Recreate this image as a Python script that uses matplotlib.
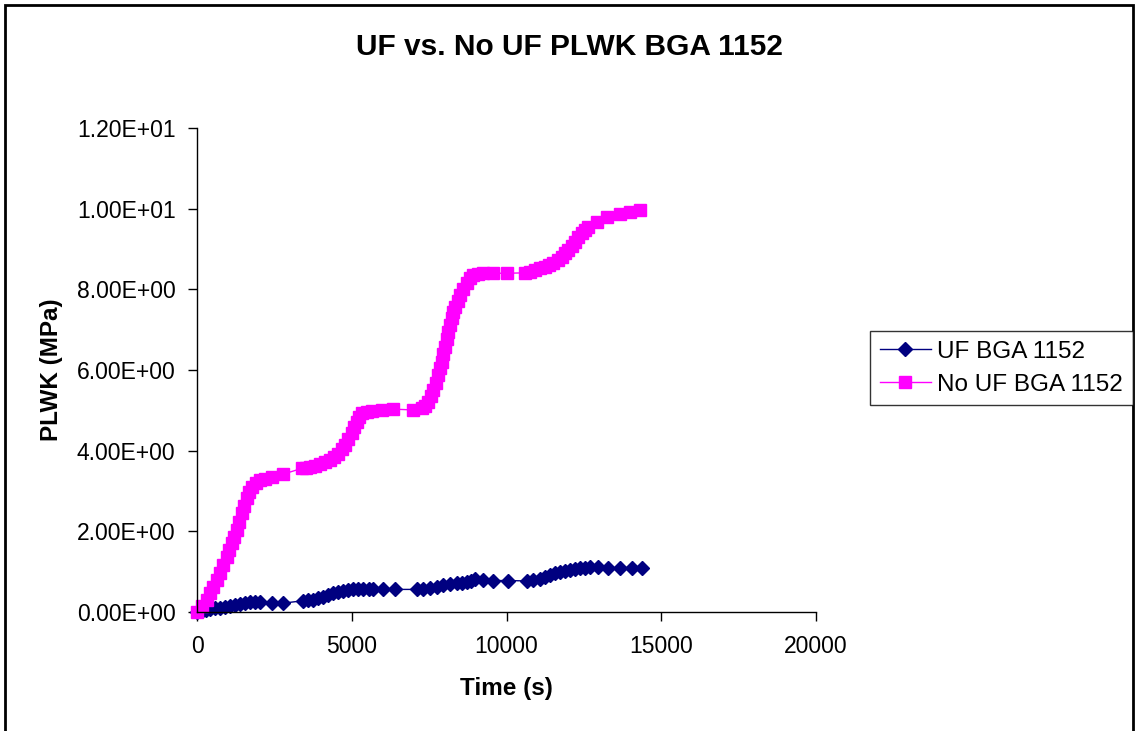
import matplotlib
matplotlib.use("Agg")
import matplotlib.pyplot as plt
from matplotlib.patches import Rectangle
from matplotlib.ticker import FuncFormatter

plt.rcParams.update({"font.family": ["Liberation Sans", "DejaVu Sans"], "font.size": 13})

# Datos (tiempo en s, PLWK en MPa)
t_nouf = [0, 150, 312, 420, 528, 640, 743, 850, 958, 1040, 1120, 1200, 1282, 1360,
          1443, 1525, 1605, 1690, 1766, 1900, 2036, 2200, 2413, 2790, 3382, 3520,
          3651, 3800, 3974, 4140, 4297, 4440, 4566, 4680, 4782, 4890, 4997, 5080,
          5159, 5240, 5320, 5480, 5643, 5966, 6344, 6990, 7259, 7370, 7475, 7560,
          7636, 7720, 7798, 7850, 7905, 7960, 8013, 8070, 8121, 8175, 8229, 8280,
          8336, 8420, 8498, 8600, 8713, 8820, 8928, 9090, 9251, 9574, 10006, 10598,
          10760, 10921, 11080, 11244, 11380, 11513, 11650, 11782, 11890, 11998,
          12100, 12213, 12320, 12429, 12540, 12644, 12914, 13237, 13667, 13990, 14313]
v_nouf = [0.0, 0.14, 0.30, 0.47, 0.63, 0.80, 0.96, 1.16, 1.37, 1.53, 1.70, 1.86, 2.03,
          2.24, 2.45, 2.64, 2.82, 2.98, 3.11, 3.20, 3.27, 3.31, 3.34, 3.42, 3.56, 3.57,
          3.59, 3.62, 3.67, 3.71, 3.77, 3.84, 3.93, 4.03, 4.14, 4.28, 4.43, 4.58,
          4.72, 4.84, 4.93, 4.96, 4.98, 5.01, 5.03, 5.01, 5.05, 5.12, 5.21, 5.35,
          5.50, 5.69, 5.88, 6.04, 6.21, 6.40, 6.58, 6.77, 6.95, 7.12, 7.28, 7.43,
          7.57, 7.72, 7.86, 8.01, 8.15, 8.27, 8.36, 8.39, 8.40, 8.40, 8.40, 8.41,
          8.44, 8.48, 8.52, 8.56, 8.60, 8.65, 8.73, 8.81, 8.89, 8.98, 9.08, 9.18,
          9.29, 9.39, 9.47, 9.55, 9.68, 9.79, 9.87, 9.93, 9.97]

t_uf = [0, 150, 300, 420, 580, 743, 900, 1066, 1230, 1390, 1550, 1713, 1870, 2036,
        2413, 2790, 3436, 3600, 3759, 3920, 4082, 4240, 4405, 4560, 4728, 4890,
        5051, 5210, 5374, 5540, 5697, 6020, 6397, 7097, 7300, 7528, 7740, 7959,
        8180, 8390, 8550, 8713, 8850, 8982, 9251, 9574, 10059, 10652, 10870, 11082,
        11250, 11405, 11570, 11728, 11890, 12051, 12210, 12375, 12540, 12698, 12967,
        13290, 13667, 14044, 14367]
v_uf = [0.0, 0.02, 0.05, 0.07, 0.09, 0.11, 0.13, 0.15, 0.17, 0.20, 0.22, 0.24, 0.26,
        0.25, 0.22, 0.22, 0.28, 0.29, 0.30, 0.34, 0.38, 0.42, 0.46, 0.50, 0.53, 0.55,
        0.56, 0.57, 0.58, 0.58, 0.56, 0.56, 0.56, 0.56, 0.58, 0.60, 0.63, 0.66,
        0.69, 0.71, 0.73, 0.75, 0.78, 0.81, 0.80, 0.78, 0.78, 0.77, 0.80, 0.83,
        0.87, 0.92, 0.96, 1.00, 1.02, 1.04, 1.06, 1.08, 1.10, 1.12, 1.11,
        1.10, 1.10, 1.10, 1.10]

fig = plt.figure(figsize=(11.39, 7.31), dpi=100)
ax = fig.add_axes([0.173, 0.1628, 0.5435, 0.662])

ax.plot(t_uf, v_uf, color="#000080", marker="D", markersize=7.5, lw=1, label="UF BGA 1152")
ax.plot(t_nouf, v_nouf, color="#FF00FF", marker="s", markersize=8, lw=1, label="No UF BGA 1152")

ax.set_xlim(0, 20000)
ax.set_ylim(0, 12)
ax.set_xticks([0, 5000, 10000, 15000, 20000])
ax.set_yticks([0, 2, 4, 6, 8, 10, 12])
ax.yaxis.set_major_formatter(FuncFormatter(lambda v, p: f"{v:.2E}"))
ax.tick_params(direction="out", length=6.5, width=1, labelsize=16.5)
ax.tick_params(axis="y", pad=9)
ax.tick_params(axis="x", pad=10)
for s in ["top", "right"]:
    ax.spines[s].set_visible(False)
for s in ["left", "bottom"]:
    ax.spines[s].set_linewidth(1)
ax.set_xlabel("Time (s)", fontsize=17.5, fontweight="bold", labelpad=14)
ax.set_ylabel("PLWK (MPa)", fontsize=17.5, fontweight="bold", labelpad=10)
for ln in ax.lines:
    ln.set_clip_on(False)

fig.suptitle("UF vs. No UF PLWK BGA 1152", x=0.5, y=0.955, fontsize=21.5, fontweight="bold")

leg = fig.legend(loc="center left", bbox_to_anchor=(0.764, 0.4965), frameon=True,
                 fancybox=False, fontsize=17.5, handlelength=2.1, borderpad=0.4,
                 labelspacing=0.45, handletextpad=0.25, borderaxespad=0)
leg.get_frame().set_edgecolor("black")
leg.get_frame().set_linewidth(1)

# borde exterior del gráfico
fig.patches.append(Rectangle((5 / 1139, -0.05), 1128 / 1139, 1.05 - 5 / 731,
                             transform=fig.transFigure, fill=False, edgecolor="black",
                             linewidth=2))

fig.savefig("out.png", dpi=100)
